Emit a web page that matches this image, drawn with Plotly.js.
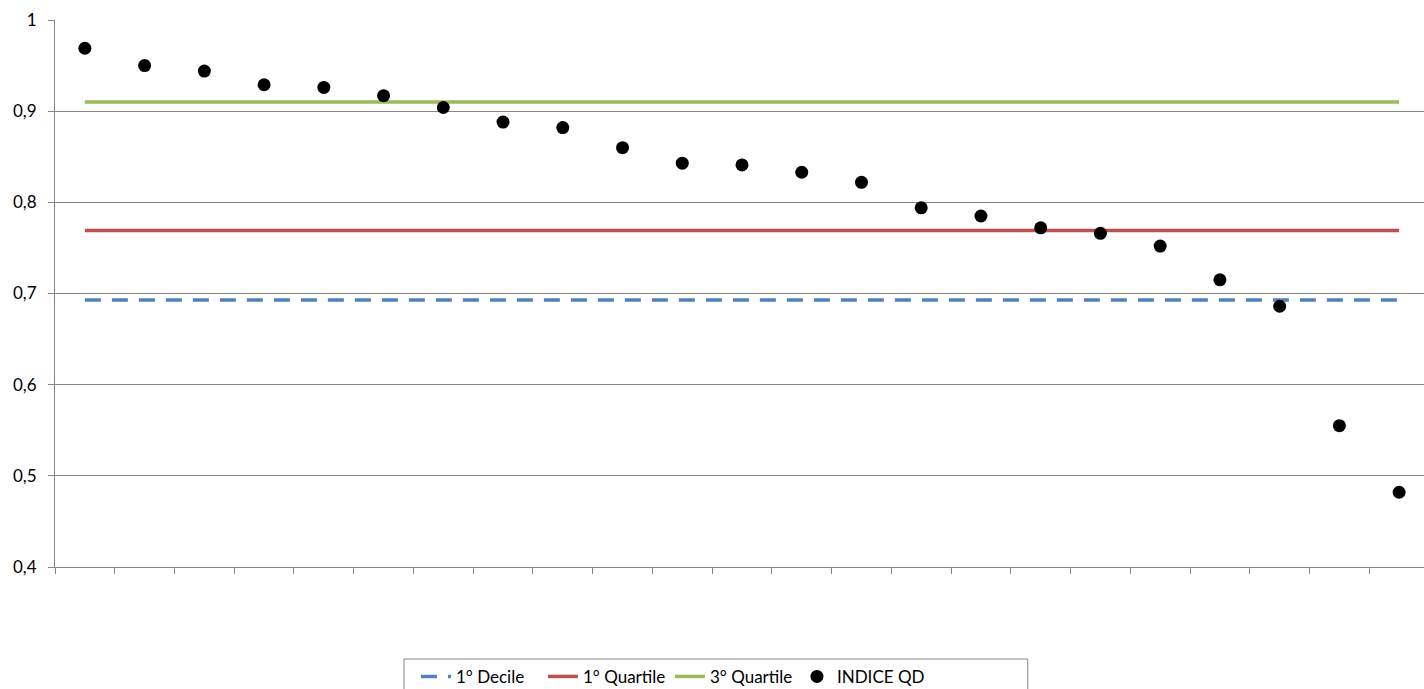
<!DOCTYPE html>
<html>
<head>
<meta charset="utf-8">
<script src="https://cdn.plot.ly/plotly-3.0.1.min.js"></script>
<style>
html,body{margin:0;padding:0;overflow:hidden;background:#fff;}
#chart{width:1430px;height:689px;}
</style>
</head>
<body>
<div id="chart"></div>
<script>
const categories = ["1","2","3","4","5","6","7","8","9","10","11","12","13","14","15","16","17","18","19","20","21","22","23"];
const indiceQD = [0.969,0.950,0.944,0.929,0.926,0.917,0.904,0.888,0.882,0.860,0.843,0.841,0.833,0.822,0.794,0.785,0.772,0.766,0.752,0.715,0.686,0.555,0.482];
const decile1 = 0.693;
const quartile1 = 0.769;
const quartile3 = 0.910;
const yTicks = [0.4,0.5,0.6,0.7,0.8,0.9,1];
const yTickText = ["0,4","0,5","0,6","0,7","0,8","0,9","1"];

const font = "Lato, 'Open Sans', sans-serif";
const traces = [
  {type:"scatter",mode:"lines",name:"1° Decile",x:categories,y:categories.map(()=>decile1),
   line:{color:"#4F81BD",width:3.5,dash:"16px,11px"}},
  {type:"scatter",mode:"lines",name:"1° Quartile",x:categories,y:categories.map(()=>quartile1),
   line:{color:"#C0504D",width:3.5}},
  {type:"scatter",mode:"lines",name:"3° Quartile",x:categories,y:categories.map(()=>quartile3),
   line:{color:"#9BBB59",width:3.5}},
  {type:"scatter",mode:"markers",name:"INDICE QD",x:categories,y:indiceQD,
   marker:{color:"#000",size:13}}
];
const layout = {
  width:1430,height:689,
  margin:{l:55,r:1,t:20,b:122,autoexpand:false},
  paper_bgcolor:"#fff",plot_bgcolor:"#fff",
  font:{family:font,size:16,color:"#000"},
  showlegend:true,
  xaxis:{type:"category",range:[-0.5,22.5],showticklabels:false,tickson:"boundaries",
    ticks:"outside",ticklen:6,tickcolor:"#868686",showgrid:false,showline:true,
    linecolor:"#868686",linewidth:1,zeroline:false,fixedrange:true},
  yaxis:{range:[0.4,1],tickvals:yTicks,ticktext:yTickText,ticks:"outside",ticklen:6,
    tickcolor:"#868686",showgrid:true,gridcolor:"#868686",gridwidth:1,showline:true,
    linecolor:"#868686",linewidth:1,zeroline:false,ticklabelstandoff:8,
    tickfont:{family:font,size:17,color:"#000"},fixedrange:true},
  legend:{orientation:"h",x:0.2627,xanchor:"left",y:-0.168,yanchor:"top",
    borderwidth:0,font:{family:font,size:17,color:"#000"},
    entrywidth:82,entrywidthmode:"pixels",bgcolor:"rgba(0,0,0,0)"},
  shapes:[{type:"rect",xref:"paper",yref:"paper",x0:0.254,x1:0.708,y0:-0.1682,y1:-0.24,
    line:{color:"#868686",width:1},fillcolor:"rgba(0,0,0,0)",layer:"below"}]
};
Plotly.newPlot("chart",traces,layout,{displayModeBar:false,staticPlot:true});
</script>
</body>
</html>
